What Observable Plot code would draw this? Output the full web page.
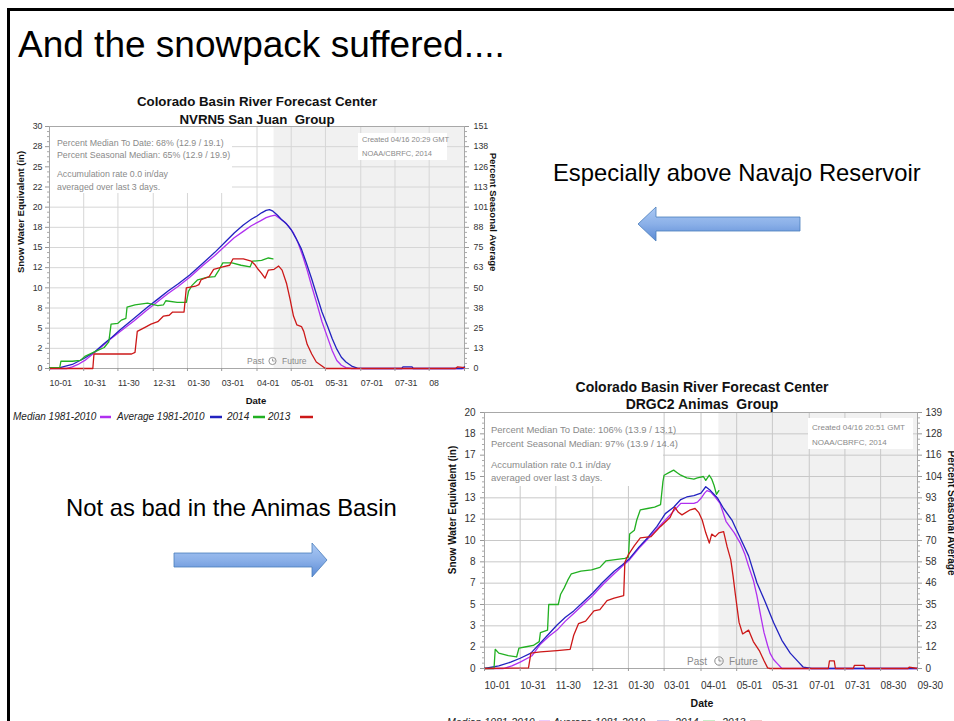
<!DOCTYPE html>
<html><head><meta charset="utf-8">
<script src="https://cdn.jsdelivr.net/npm/d3@7"></script>
<script src="https://cdn.jsdelivr.net/npm/@observablehq/plot@0.6"></script>
<style>
html,body{margin:0;padding:0;background:#fff}
#slide{position:relative;width:954px;height:721px;overflow:hidden;background:#fff;font-family:"Liberation Sans",Arial,Helvetica,sans-serif}
.pos{position:absolute}
#c1{left:0;top:115px}
#c2{left:440px;top:402px}
#deco{position:absolute;left:0;top:0;pointer-events:none}
#deco text{font-family:"Liberation Sans",Arial,Helvetica,sans-serif}
</style></head><body>
<div id="slide">
<div id="c1" class="pos"></div>
<div id="c2" class="pos"></div>
<svg id="deco" width="954" height="721">
<defs>
<linearGradient id="ag" x1="0" y1="0" x2="0" y2="1">
<stop offset="0" stop-color="#abc9f4"/><stop offset="0.5" stop-color="#8bb0e8"/><stop offset="1" stop-color="#5a8ad5"/>
</linearGradient>
</defs>
<path d="M8.5 721 V9.5 H954" fill="none" stroke="#000" stroke-width="3"/>
<text x="18" y="57" font-size="37" fill="#000">And the snowpack suffered....</text>
<text x="553" y="181" font-size="23.8" fill="#000">Especially above Navajo Reservoir</text>
<text x="66" y="516" font-size="23.8" fill="#000">Not as bad in the Animas Basin</text>
<polygon points="638,224 656,207 656,217 800,217 800,231 656,231 656,241" fill="url(#ag)" stroke="#4a7ebb" stroke-width="0.8"/>
<polygon points="327,560 312,543 312,553 174,553 174,567 312,567 312,577" fill="url(#ag)" stroke="#4a7ebb" stroke-width="0.8"/>

<!-- chart 1 text -->
<text x="257" y="106" text-anchor="middle" font-weight="bold" font-size="13.3" fill="#111">Colorado Basin River Forecast Center</text>
<text x="257" y="124" text-anchor="middle" font-weight="bold" font-size="13.3" fill="#111" style="white-space:pre">NVRN5 San Juan  Group</text>
<text transform="translate(24,212) rotate(-90)" text-anchor="middle" font-weight="bold" font-size="9.5" fill="#111">Snow Water Equivalent (in)</text>
<text transform="translate(490,212) rotate(90)" text-anchor="middle" font-weight="bold" font-size="9.5" fill="#111">Percent Seasonal Average</text>
<text x="256" y="404" text-anchor="middle" font-weight="bold" font-size="9.5" fill="#111">Date</text>
<g font-size="8.8" fill="#8a8a8a">
<text x="57" y="146">Percent Median To Date: 68% (12.9 / 19.1)</text>
<text x="57" y="158">Percent Seasonal Median: 65% (12.9 / 19.9)</text>
<text x="57" y="177">Accumulation rate 0.0 in/day</text>
<text x="57" y="190">averaged over last 3 days.</text>
</g>
<g font-size="7.5" fill="#8a8a8a">
<text x="362" y="142">Created 04/16 20:29 GMT</text>
<text x="362" y="156">NOAA/CBRFC, 2014</text>
</g>
<g font-size="8.5" fill="#8a8a8a">
<text x="264" y="364" text-anchor="end">Past</text>
<circle cx="272.5" cy="361" r="3.6" fill="none" stroke="#8a8a8a" stroke-width="0.9"/>
<path d="M272.5 358.6 V361 H274.5" fill="none" stroke="#8a8a8a" stroke-width="0.8"/>
<text x="282" y="364">Future</text>
</g>
<g font-size="10" font-style="italic" fill="#222">
<text x="13" y="420">Median 1981-2010</text>
<text x="117" y="420">Average 1981-2010</text>
<text x="227" y="420">2014</text>
<text x="268" y="420">2013</text>
</g>
<g stroke-width="2.5">
<line x1="100" x2="111" y1="417" y2="417" stroke="#b030f0"/>
<line x1="210" x2="222" y1="417" y2="417" stroke="#2222c0"/>
<line x1="253" x2="265" y1="417" y2="417" stroke="#22b022"/>
<line x1="300" x2="313" y1="417" y2="417" stroke="#cc1818"/>
</g>

<!-- chart 2 text -->
<text x="702" y="392" text-anchor="middle" font-weight="bold" font-size="14" fill="#111">Colorado Basin River Forecast Center</text>
<text x="702" y="409" text-anchor="middle" font-weight="bold" font-size="14" fill="#111" style="white-space:pre">DRGC2 Animas  Group</text>
<text transform="translate(456,510) rotate(-90)" text-anchor="middle" font-weight="bold" font-size="10" fill="#111">Snow Water Equivalent (in)</text>
<text transform="translate(948,513) rotate(90)" text-anchor="middle" font-weight="bold" font-size="10" fill="#111">Percent Seasonal Average</text>
<text x="702" y="707" text-anchor="middle" font-weight="bold" font-size="10.5" fill="#111">Date</text>
<g font-size="9.5" fill="#8a8a8a">
<text x="491" y="432.5">Percent Median To Date: 106% (13.9 / 13.1)</text>
<text x="491" y="446.5">Percent Seasonal Median: 97% (13.9 / 14.4)</text>
<text x="491" y="467.5">Accumulation rate 0.1 in/day</text>
<text x="491" y="481">averaged over last 3 days.</text>
</g>
<g font-size="8" fill="#8a8a8a">
<text x="812" y="430">Created 04/16 20:51 GMT</text>
<text x="812" y="445">NOAA/CBRFC, 2014</text>
</g>
<g font-size="10" fill="#8a8a8a">
<text x="707" y="665" text-anchor="end">Past</text>
<circle cx="719" cy="661" r="4.2" fill="none" stroke="#8a8a8a" stroke-width="1"/>
<path d="M719 658.2 V661 H721.4" fill="none" stroke="#8a8a8a" stroke-width="0.9"/>
<text x="729" y="665">Future</text>
</g>
<g font-size="10.5" font-style="italic" fill="#222">
<text x="447" y="726">Median 1981-2010</text>
<text x="553" y="726">Average 1981-2010</text>
<text x="675" y="726">2014</text>
<text x="722" y="726">2013</text>
</g>
<g stroke-width="2.5">
<line x1="539" x2="550" y1="722" y2="722" stroke="#b030f0"/>
<line x1="657" x2="669" y1="722" y2="722" stroke="#2222c0"/>
<line x1="703" x2="715" y1="722" y2="722" stroke="#22b022"/>
<line x1="750" x2="762" y1="722" y2="722" stroke="#cc1818"/>
</g>
</svg>
</div>
<script>
// ---- shared x axis (days since Oct 1) ----
const dayTicks = [0, 30, 60, 91, 121, 151, 182, 212, 242, 273, 303, 333, 364];
const dateLabelsSJ = ["10-01","10-31","11-30","12-31","01-30","03-01","04-01","05-01","05-31","07-01","07-31","08",""];
const dateLabelsAN = ["10-01","10-31","11-30","12-31","01-30","03-01","04-01","05-01","05-31","07-01","07-31","08-30","09-30"];
const createdDay = 197; // 04-16

// ---- San Juan (NVRN5) ----
const sjYTicks = [0, 2.5, 5, 7.5, 10, 12.5, 15, 17.5, 20, 22.5, 25, 27.5, 30];
const sjYLabels = ["0","2","5","8","10","12","15","18","20","22","25","28","30"];
const sjPctLabels = ["0","13","25","38","50","63","75","88","101","113","126","138","151"];

const sjMedian = [[0,0],[15,0],[20,0.2],[25,0.5],[31,1.0],[38,1.8],[45,2.6],[53,3.6],[62,4.6],[74,5.9],[85,7.2],[95,8.3],[104,9.3],[113,10.2],[123,11.3],[134,12.7],[145,14.0],[155,15.3],[162,16.2],[170,17.0],[177,17.7],[185,18.3],[190,18.7],[194,18.9],[198,19.0],[202,18.6],[206,18.2],[210,17.6],[214,16.8],[218,15.6],[222,14.0],[226,12.2],[230,10.2],[235,7.8],[239,5.8],[244,3.8],[248,2.2],[252,1.0],[256,0.4],[260,0.1],[265,0],[364,0]];
const sjAverage = [[0,0],[10,0.15],[20,0.5],[31,1.3],[40,2.1],[48,3.1],[55,3.9],[62,4.8],[74,6.2],[85,7.5],[95,8.6],[104,9.6],[113,10.5],[123,11.6],[135,13.1],[145,14.4],[155,15.8],[162,16.8],[170,17.8],[177,18.5],[182,18.9],[186,19.3],[190,19.6],[193,19.7],[196,19.5],[200,19.0],[204,18.4],[208,17.9],[212,17.2],[216,16.2],[221,14.8],[225,13.2],[230,11.1],[235,8.8],[239,7.0],[244,5.2],[248,3.7],[252,2.4],[256,1.4],[260,0.8],[265,0.3],[270,0.05],[275,0],[309,0],[310,0.2],[318,0.2],[319,0],[362,0],[364,0.2]];
const sj2014 = [[0,0.1],[9,0.1],[10,0.9],[20,0.9],[27,1.0],[31,1.5],[40,2.1],[48,2.6],[52,3.3],[54,5.5],[60,5.6],[63,6.0],[67,6.2],[68,7.6],[75,7.9],[86,8.1],[95,7.8],[100,7.9],[102,8.4],[112,8.2],[120,8.2],[122,9.6],[125,10.3],[130,11.0],[138,11.3],[145,11.4],[149,12.3],[152,13.1],[160,13.1],[168,12.8],[176,12.6],[178,13.3],[186,13.4],[192,13.7],[196,13.6]];
const sj2013 = [[0,0],[38,0],[39,1.8],[72,1.8],[75,2.0],[77,4.6],[85,5.2],[89,5.5],[95,5.8],[100,6.5],[105,6.6],[108,7.0],[118,7.0],[120,10.0],[128,10.2],[131,10.4],[133,11.0],[140,11.4],[144,12.3],[152,12.6],[158,12.8],[161,13.6],[170,13.6],[177,13.3],[180,12.9],[183,12.3],[186,11.8],[189,11.2],[192,12.2],[197,12.3],[201,12.7],[204,12.2],[208,10.5],[211,8.6],[214,6.5],[217,5.4],[221,5.2],[223,4.6],[226,3.0],[230,1.8],[234,0.8],[239,0.3],[242,0],[356,0],[358,0.2],[364,0.1]];

// ---- Animas (DRGC2) ----
const anYTicks = [0, 1.6667, 3.3333, 5, 6.6667, 8.3333, 10, 11.6667, 13.3333, 15, 16.6667, 18.3333, 20];
const anYLabels = ["0","2","3","5","7","8","10","12","13","15","17","18","20"];
const anPctLabels = ["0","12","23","35","46","58","70","81","93","104","116","128","139"];

const anMedian = [[0,0],[16,0],[23,0.2],[30,0.5],[40,1.0],[47,1.9],[54,2.5],[61,3.0],[68,3.7],[75,4.3],[83,5.0],[91,5.7],[100,6.6],[109,7.4],[116,8.0],[122,8.5],[130,9.4],[137,10.1],[145,10.9],[152,11.6],[158,12.2],[165,12.9],[170,12.9],[176,12.9],[179,13.0],[182,13.3],[185,13.7],[187,13.9],[190,13.8],[193,13.5],[198,12.9],[203,11.5],[206,11.1],[210,10.6],[215,9.8],[219,8.9],[222,8.0],[226,6.9],[229,5.7],[232,4.2],[235,2.8],[238,1.8],[240,1.2],[243,0.7],[246,0.4],[250,0],[364,0]];
const anAverage = [[0,0],[12,0.2],[22,0.5],[30,0.8],[39,1.2],[47,2.0],[54,2.7],[61,3.4],[68,4.0],[75,4.5],[83,5.2],[91,5.9],[99,6.7],[109,7.6],[116,8.1],[122,8.6],[130,9.5],[137,10.2],[145,11.1],[152,12.1],[159,12.6],[165,13.2],[170,13.4],[176,13.5],[182,13.7],[186,14.2],[190,13.9],[196,13.3],[201,12.5],[208,11.6],[215,10.2],[222,8.8],[229,6.7],[236,5.2],[243,3.6],[250,2.2],[257,1.2],[264,0.5],[268,0.1],[275,0],[364,0]];
const an2014 = [[0,0],[8,0],[9,1.5],[12,1.2],[20,1.0],[27,0.9],[29,1.6],[35,1.7],[41,1.8],[46,2.1],[47,2.8],[53,3.0],[54,5.0],[62,5.0],[64,5.8],[67,6.3],[70,6.9],[73,7.4],[81,7.6],[90,7.7],[97,7.9],[102,8.4],[110,8.5],[118,8.6],[121,8.7],[122,10.5],[126,10.8],[128,11.6],[131,12.4],[137,12.5],[143,12.6],[148,12.8],[150,14.6],[151,15.1],[155,15.3],[159,15.5],[162,15.3],[165,15.1],[170,14.9],[176,14.8],[179,14.9],[184,15.0],[186,14.7],[189,15.1],[191,14.8],[193,14.3],[195,13.6],[197,13.9]];
const an2013 = [[0,0],[37,0.05],[39,1.2],[47,1.3],[61,1.4],[72,1.5],[75,2.6],[79,3.5],[85,3.7],[92,4.5],[97,4.6],[103,5.3],[109,5.5],[117,5.7],[118,8.3],[121,8.9],[126,9.6],[131,10.2],[140,10.3],[148,11.1],[156,11.8],[160,12.6],[163,12.2],[166,12.0],[173,12.4],[177,12.5],[180,12.2],[183,11.6],[186,10.6],[189,9.8],[191,10.5],[194,10.3],[197,10.6],[201,10.7],[204,9.5],[207,8.5],[209,7.2],[211,5.7],[214,3.6],[217,2.7],[222,3.0],[226,2.1],[231,1.4],[235,0.6],[238,0.05],[240,0],[289,0],[290,0.6],[294,0.6],[295,0],[310,0],[311,0.25],[319,0.25],[320,0],[356,0],[357,0.1],[364,0]];

const seriesColors = {median: "#b030f0", average: "#2222c0", y2014: "#22b022", y2013: "#cc1818"};

function drawChart(el, cfg) {
  const yLab = new Map(cfg.yTicks.map((t, i) => [t, cfg.yLabels[i]]));
  const pLab = new Map(cfg.yTicks.map((t, i) => [t, cfg.pctLabels[i]]));
  const xLab = new Map(dayTicks.map((t, i) => [t, cfg.xLabels[i]]));
  const yMax = cfg.yTicks[cfg.yTicks.length - 1];
  const step = (cfg.yTicks[1] - cfg.yTicks[0]) / 4;
  const minor = d3.range(0, yMax + 1e-6, step).filter((v, i) => i % 4 !== 0);
  const boxes = () => {
    const g = d3.create("svg:g");
    for (const b of cfg.boxes) g.append("rect").attr("x", b[0]).attr("y", b[1]).attr("width", b[2] - b[0]).attr("height", b[3] - b[1]).attr("fill", "#fff");
    return g.node();
  };
  const line = (data, color) => Plot.line(data, {x: d => d[0], y: d => d[1], stroke: color, strokeWidth: cfg.lw});
  const svg = Plot.plot({
    width: cfg.width, height: cfg.height,
    marginLeft: cfg.m[0], marginTop: cfg.m[1], marginRight: cfg.m[2], marginBottom: cfg.m[3],
    x: {domain: [0, 364]},
    y: {domain: [0, yMax]},
    style: {background: "transparent", fontFamily: "Liberation Sans, Arial, sans-serif", overflow: "visible"},
    marks: [
      Plot.rect([createdDay], {x1: d => d, x2: () => 364, y1: () => 0, y2: () => yMax, fill: "#f1f1f1"}),
      Plot.gridY(cfg.yTicks, {stroke: cfg.grid, strokeOpacity: 1}),
      Plot.gridX(dayTicks, {stroke: cfg.grid, strokeOpacity: 1}),
      boxes,
      Plot.frame({stroke: "#a8a8a8"}),
      line(cfg.median, seriesColors.median),
      line(cfg.average, seriesColors.average),
      line(cfg.y2014, seriesColors.y2014),
      line(cfg.y2013, seriesColors.y2013),
      Plot.axisY(cfg.yTicks, {anchor: "left", tickSize: 4, tickPadding: cfg.padL, tickFormat: d => yLab.get(d), fontSize: cfg.fs, color: "#333", stroke: "#999", label: null}),
      Plot.axisY(minor, {anchor: "left", tickSize: 2, tickFormat: () => "", stroke: "#aaa", label: null}),
      Plot.axisY(cfg.yTicks, {anchor: "right", tickSize: 4, tickPadding: cfg.padR, tickFormat: d => pLab.get(d), fontSize: cfg.fs, color: "#333", stroke: "#999", label: null}),
      Plot.axisY(minor, {anchor: "right", tickSize: 2, tickFormat: () => "", stroke: "#aaa", label: null}),
      Plot.axisX(dayTicks, {anchor: "bottom", tickSize: 3, tickPadding: cfg.padB, tickFormat: d => xLab.get(d), textAnchor: "start", fontSize: cfg.fs, color: "#333", stroke: "#999", label: null})
    ]
  });
  el.appendChild(svg);
}

drawChart(document.getElementById("c1"), {
  width: 520, height: 300, m: [49, 11, 56, 47], lw: 1.3, fs: 8.8, padL: 3, padR: 5, padB: 8, grid: "#d6d6d6",
  yTicks: sjYTicks, yLabels: sjYLabels, pctLabels: sjPctLabels, xLabels: dateLabelsSJ,
  median: sjMedian, average: sjAverage, y2014: sj2014, y2013: sj2013,
  boxes: [[49, 11, 232, 78], [358, 18, 447, 45]]
});
drawChart(document.getElementById("c2"), {
  width: 514, height: 319, m: [44, 10, 37, 53], lw: 1.3, fs: 10, padL: 5, padR: 4, padB: 10, grid: "#c8c8c8",
  yTicks: anYTicks, yLabels: anYLabels, pctLabels: anPctLabels, xLabels: dateLabelsAN,
  median: anMedian, average: anAverage, y2014: an2014, y2013: an2013,
  boxes: [[44, 10, 223, 84], [368, 16, 473, 47]]
});
</script>
</body></html>
